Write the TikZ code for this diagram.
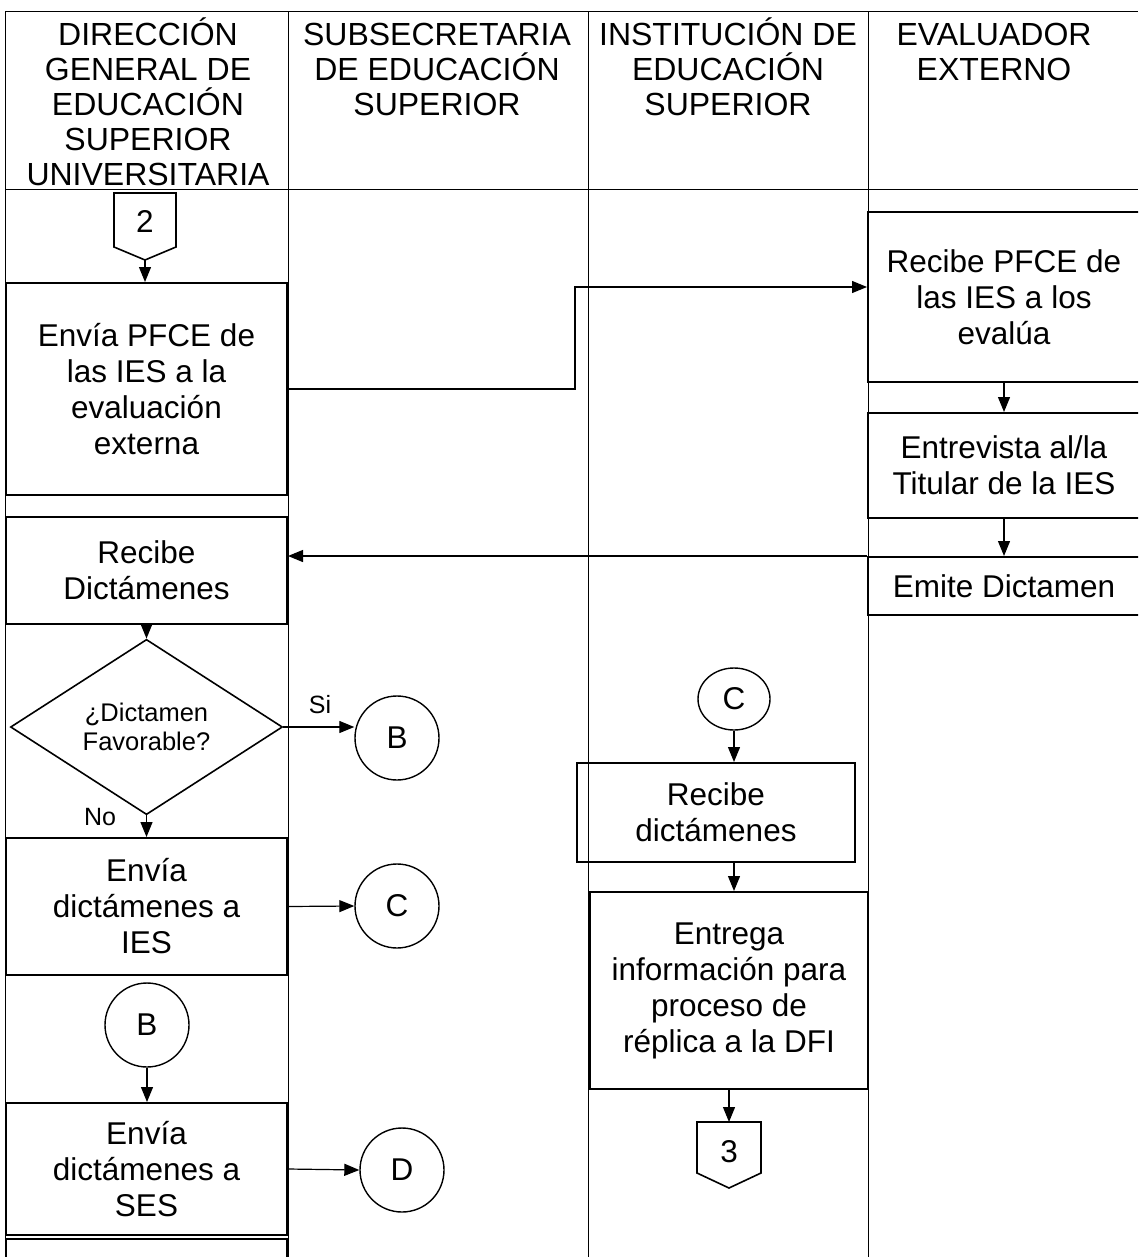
\documentclass[tikz,border=0pt]{standalone}
\usepackage{fontspec}
\setmainfont{Liberation Sans}
\usetikzlibrary{arrows.meta,shapes.geometric}
\newcommand\boxfnt{\fontsize{31.5}{36}\selectfont}
\newcommand\hdrfnt{\fontsize{32}{35}\selectfont}
\newcommand\smlfnt{\fontsize{25.5}{29}\selectfont}
\newcommand\lblfnt{\fontsize{25}{28}\selectfont}
\begin{document}
\begin{tikzpicture}[x=1pt,y=-1pt,
  laneline/.style={line width=1pt},
  hdr/.style={anchor=north, inner sep=0pt, align=center, font=\hdrfnt},
  pbox/.style={draw, rectangle, line width=2pt, inner sep=0pt, align=center, font=\boxfnt},
  conn/.style={draw, circle, line width=1.4pt, minimum size=84pt, inner sep=0pt, font=\boxfnt},
  decis/.style={draw, diamond, line width=1.6pt, inner sep=0pt, align=center, font=\smlfnt},
  offp/.style={draw, line width=1.6pt, line join=miter},
  arr/.style={line width=1.2pt, -{Triangle[length=15pt,width=12pt]}},
  lbl/.style={inner sep=0pt, font=\lblfnt}]
\useasboundingbox (0,0) rectangle (1138,1257);
\clip (0,0) rectangle (1138,1257);
\fill[white] (0,0) rectangle (1138,1257);
% lanes
\draw[laneline] (5,12) -- (1138,12);
\draw[laneline] (5,190) -- (1138,190);
\draw[laneline] (5,12) -- (5,1257);
\draw[laneline] (288,12) -- (288,1257);
\draw[laneline] (588,12) -- (588,1257);
\draw[laneline] (868,12) -- (868,1257);
% headers
\node[hdr] (h1) at (148,13) {\rule{0pt}{32pt}DIRECCIÓN\\GENERAL DE\\EDUCACIÓN\\SUPERIOR\\UNIVERSITARIA};
\node[hdr] (h2) at (437,13) {\rule{0pt}{32pt}SUBSECRETARIA\\DE EDUCACIÓN\\SUPERIOR};
\node[hdr] (h3) at (728,13) {\rule{0pt}{32pt}INSTITUCIÓN DE\\EDUCACIÓN\\SUPERIOR};
\node[hdr] (h4) at (994,13) {\rule{0pt}{32pt}EVALUADOR\\EXTERNO};
% lane 1
\draw[offp] (114,193) -- (176,193) -- (176,247) -- (145,260) -- (114,247) -- cycle;
\node[font=\boxfnt, inner sep=0pt] (p2) at (145,222) {2};
\coordinate (p2tip) at (145,260);
\node[pbox, minimum width=281, minimum height=212] (b1) at (146.5,389) {Envía PFCE de\\las IES a la\\evaluación\\externa};
\node[pbox, minimum width=281, minimum height=107] (b2) at (146.5,570.5) {Recibe\\Dictámenes};
\node[decis, minimum width=272, minimum height=135] (dia) at (146.5,727) {¿Dictamen\\Favorable?};
\node[pbox, minimum width=281, minimum height=137] (b3) at (146.5,906.5) {Envía\\dictámenes a\\IES};
\node[conn] (bc1) at (147,1025) {B};
\node[pbox, minimum width=281, minimum height=132] (b4) at (146.5,1169) {Envía\\dictámenes a\\SES};
\node[pbox, minimum width=281, minimum height=100, anchor=north] (b5) at (146.5,1238) {};
% lane 2
\node[conn] (bc2) at (397,738) {B};
\node[conn] (cc2) at (397,906) {C};
\node[conn] (dc2) at (402,1170) {D};
\node[lbl] (si) at (320,705) {Si};
\node[lbl] (no) at (100,817) {No};
% lane 3
\node[draw, ellipse, line width=1.4pt, minimum width=72pt, minimum height=62pt, inner sep=0pt, font=\boxfnt] (cc3) at (734,699) {C};
\node[pbox, minimum width=278, minimum height=99] (rd) at (716,812.5) {Recibe\\dictámenes};
\node[pbox, minimum width=278, minimum height=197] (ent) at (729,990.5) {Entrega\\información para\\proceso de\\réplica a la DFI};
\draw[offp] (697,1122) -- (761,1122) -- (761,1173) -- (729,1188) -- (697,1173) -- cycle;
\node[font=\boxfnt, inner sep=0pt] (p3) at (729,1152) {3};
\coordinate (p3top) at (729,1122);
% lane 4
\node[pbox, minimum width=272, minimum height=170] (rp) at (1004,297) {Recibe PFCE de\\las IES a los\\evalúa};
\node[pbox, minimum width=272, minimum height=105] (en) at (1004,465.5) {Entrevista al/la\\Titular de la IES};
\node[pbox, minimum width=272, minimum height=58] (em) at (1004,586) {Emite Dictamen};
% connectors
\draw[arr] (p2tip) -- (p2tip |- b1.north);
\coordinate (k1) at (575,287);
\draw[arr] (b1.east) -| (k1) -- (k1 -| rp.west);
\draw[arr] (rp.south) -- (en.north);
\draw[arr] (en.south) -- (em.north);
\draw[arr] (em.north west) -- (b2.east |- em.north west);
\draw[arr] (b2.south) -- (dia.north);
\draw[arr] (dia.east) -- (bc2.west |- dia.east);
\draw[arr] (dia.south) -- (b3.north);
\draw[arr] (b3.east) -- (cc2.west);
\draw[arr] (bc1.south) -- (bc1.south |- b4.north);
\draw[arr] (b4.east) -- (dc2.west);
\draw[arr] (cc3.south) -- (cc3.south |- rd.north);
\draw[arr] (cc3.south |- rd.south) -- (cc3.south |- ent.north);
\draw[arr] (ent.south) -- (p3top);
\end{tikzpicture}
\end{document}
